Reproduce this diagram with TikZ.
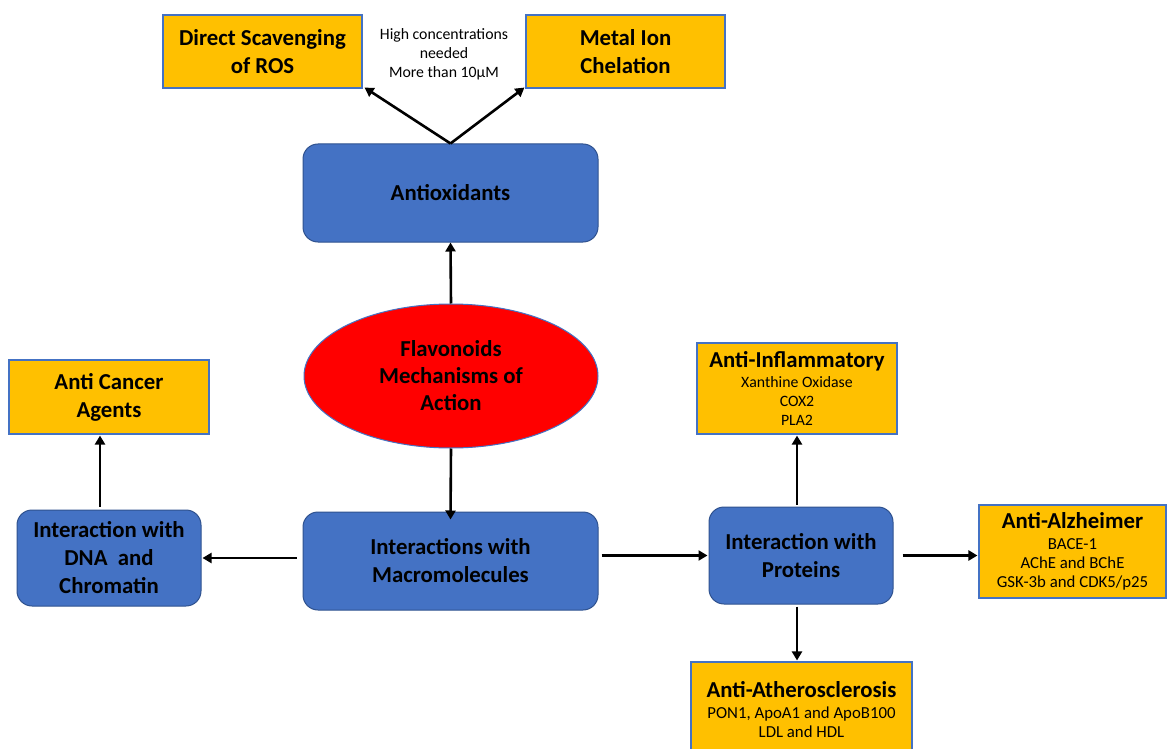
\documentclass[tikz,border=0pt]{standalone}
\usepackage{fontspec}
\setmainfont{Carlito}
\usetikzlibrary{arrows.meta,shapes.geometric}
\definecolor{ygold}{HTML}{FFC000}
\definecolor{bblue}{HTML}{4472C4}
\definecolor{bdark}{HTML}{2F528F}
\newcommand{\hfnt}{\fontsize{22.8}{28}\selectfont\bfseries}
\newcommand{\sfnt}{\fontsize{15.8}{19}\selectfont}
\newcommand{\sfntb}{\fontsize{16.8}{19}\selectfont}
\tikzset{
  ybox/.style={draw=bblue, line width=1.1pt, fill=ygold, align=center, inner sep=0pt, font=\hfnt},
  yboxs/.style={draw=bblue, line width=1.1pt, fill=ygold, align=center, inner sep=0pt, font=\sfnt},
  bbox/.style={draw=bdark, line width=1pt, fill=bblue, rounded corners=15pt, align=center, inner sep=0pt, font=\hfnt},
  arr/.style={line width=2.6pt, -{Triangle[length=9pt,width=10pt]}}
}
\begin{document}
\begin{tikzpicture}[x=1pt,y=-1pt]
\clip (0,0) rectangle (1168,749);
\fill[white] (0,0) rectangle (1168,749);
% top yellow boxes
\node[ybox, minimum width=199pt, minimum height=73pt] (dsc) at (262.5,51.5) {Direct Scavenging\\of ROS};
\node[ybox, minimum width=199pt, minimum height=73pt] (metal) at (625.5,51.5) {Metal Ion\\Chelation};
\node[align=center, font=\sfnt, inner sep=0pt] (note) at (444,54) {High concentrations\\needed\\More than 10μM};
% blue boxes
\node[bbox, minimum width=295pt, minimum height=98pt] (antiox) at (450.5,193) {Antioxidants};
\node[ellipse, draw=bblue, line width=1pt, fill=red, minimum width=294pt, minimum height=144pt, inner sep=0pt, align=center, font=\fontsize{22.8}{27}\selectfont\bfseries] (flav) at (451,376) {Flavonoids\\Mechanisms of\\Action};
\node[bbox, minimum width=295pt, minimum height=98pt] (macro) at (450.5,561) {Interactions with\\Macromolecules};
\node[bbox, minimum width=184pt, minimum height=96pt] (dna) at (109,558) {Interaction with\\DNA\ \ and\\Chromatin};
\node[bbox, minimum width=184pt, minimum height=97pt] (prot) at (801,555.5) {Interaction with\\Proteins};
% yellow result boxes
\node[ybox, minimum width=200pt, minimum height=74pt] (cancer) at (109,397) {Anti Cancer\\Agents};
\node[yboxs, minimum width=200pt, minimum height=91pt] (infl) at (797,388.5) {{\hfnt Anti-Inflammatory}\\[1pt]Xanthine Oxidase\\COX2\\PLA2};
\node[yboxs, font=\sfntb, minimum width=187pt, minimum height=93pt] (alz) at (1072.5,551.5) {{\hfnt Anti-Alzheimer}\\[2pt]BACE-1\\AChE and BChE\\GSK-3b and CDK5/p25};
\node[yboxs, font=\sfntb, minimum width=221pt, minimum height=96pt] (ath) at (801.5,710) {{\hfnt Anti-Atherosclerosis}\\[2pt]PON1, ApoA1 and ApoB100\\LDL and HDL};
% arrows
\draw[arr] (antiox.north) -- ([xshift=2pt,yshift=1pt]dsc.south east);
\draw[arr] (antiox.north) -- ([xshift=-1pt,yshift=1pt]metal.south west);
\draw[arr] (flav.north) -- (antiox.south);
\draw[arr] (flav.south) -- ([yshift=-8pt]macro.north);
\draw[arr, shorten <=6pt, shorten >=1pt] (macro.west |- dna.east) -- (dna.east);
\draw[arr, shorten <=3pt, shorten >=1pt] ([xshift=-9pt]dna.north) -- ([xshift=-9pt]cancer.south);
\draw[arr, shorten <=3pt, shorten >=1pt] (macro.east |- prot.west) -- (prot.west);
\draw[arr, shorten <=2pt, shorten >=1pt] (infl.south |- prot.north) -- (infl.south);
\draw[arr, shorten <=9pt, shorten >=1pt] (prot.east) -- (alz.west |- prot.east);
\draw[arr, shorten <=2pt, shorten >=1pt] (infl.south |- prot.south) -- (infl.south |- ath.north);
\end{tikzpicture}
\end{document}
